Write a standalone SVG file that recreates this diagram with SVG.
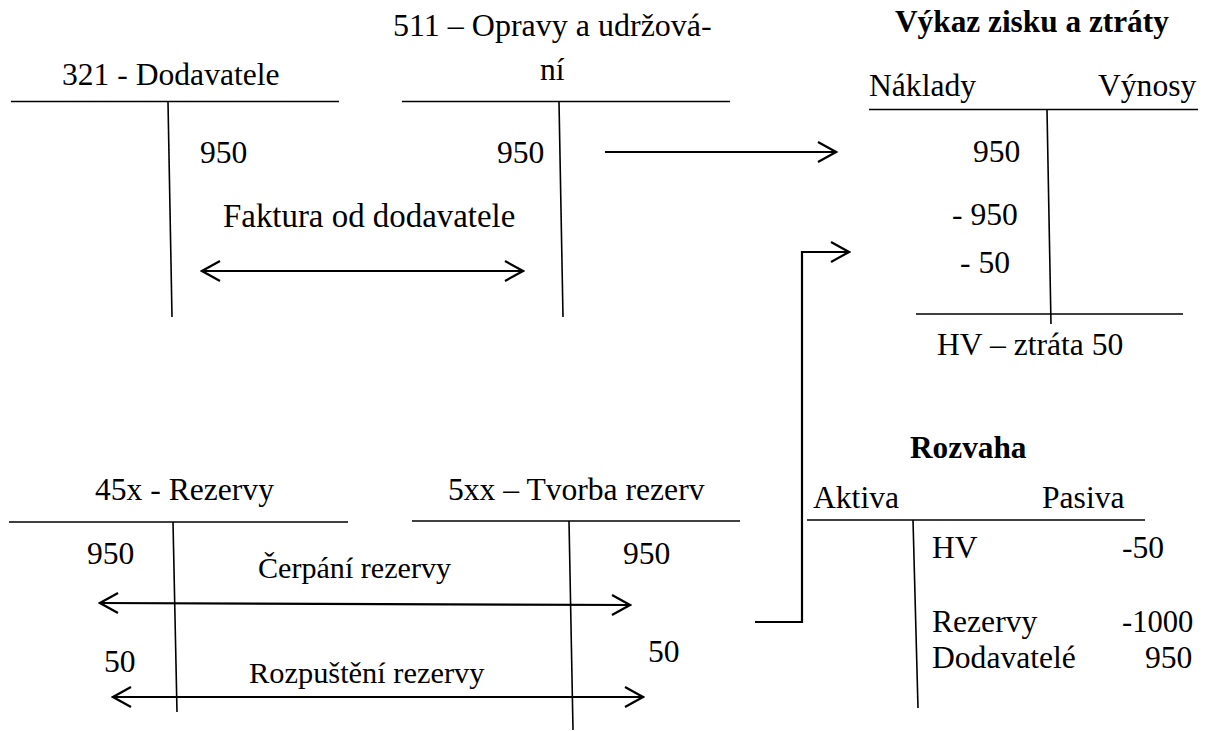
<svg xmlns="http://www.w3.org/2000/svg" width="1211" height="731" viewBox="0 0 1211 731">
<style>
text{font-family:"Liberation Serif","Times New Roman",serif;font-size:31.6px;fill:#000}
.b{font-weight:bold;font-size:31.3px}
.t{stroke:#000;stroke-width:1.6;fill:none}
.c{stroke:#000;stroke-width:2.2;fill:none}
</style>
<defs>
<marker id="ah" viewBox="-20 -12 22 24" refX="0" refY="0" markerWidth="22" markerHeight="24" markerUnits="userSpaceOnUse" orient="auto-start-reverse">
<path d="M-18,-10 L0,0 L-18,10" fill="none" stroke="#000" stroke-width="2.2"/>
</marker>
</defs>
<rect width="1211" height="731" fill="#fff"/>
<g id="acc321">
<text x="62" y="85">321 - Dodavatele</text>
<line class="t" x1="11" y1="101.5" x2="339" y2="101.5"/>
<line class="t" x1="168" y1="102" x2="172" y2="317"/>
<text x="200" y="163">950</text>
</g>
<g id="acc511">
<text x="393" y="36" style="font-size:32px">511 – Opravy a udržová-</text>
<text x="540" y="80">ní</text>
<line class="t" x1="402" y1="101.5" x2="730" y2="101.5"/>
<line class="t" x1="559" y1="102" x2="563" y2="317"/>
<text x="497" y="163">950</text>
</g>
<g id="vzz">
<text class="b" x="895" y="32">Výkaz zisku a ztráty</text>
<text x="869" y="96">Náklady</text>
<text x="1098" y="96">Výnosy</text>
<line class="t" x1="869" y1="109.5" x2="1198" y2="109.5"/>
<line class="t" x1="1047" y1="110" x2="1051" y2="324"/>
<text x="973" y="162">950</text>
<text x="952" y="225">- 950</text>
<text x="960" y="273">- 50</text>
<line class="t" x1="916" y1="314" x2="1183" y2="314"/>
<text x="937" y="355">HV – ztráta 50</text>
</g>
<g id="acc45x">
<text x="95" y="500">45x - Rezervy</text>
<line class="t" x1="9" y1="522" x2="348" y2="522"/>
<line class="t" x1="173" y1="522" x2="177" y2="712"/>
<text x="87" y="564">950</text>
<text x="104" y="672">50</text>
</g>
<g id="acc5xx">
<text x="448" y="500">5xx – Tvorba rezerv</text>
<line class="t" x1="412" y1="521" x2="740" y2="521"/>
<line class="t" x1="569" y1="521" x2="573" y2="730"/>
<text x="623" y="564">950</text>
<text x="648" y="662">50</text>
</g>
<g id="rozvaha">
<text class="b" x="910" y="458">Rozvaha</text>
<text x="813" y="508">Aktiva</text>
<text x="1042" y="508">Pasiva</text>
<line class="t" x1="807" y1="520" x2="1145" y2="520"/>
<line class="t" x1="913" y1="520" x2="918" y2="708"/>
<text x="932" y="558">HV</text>
<text x="1122" y="558">-50</text>
<text x="932" y="632">Rezervy</text>
<text x="1122" y="632" style="font-size:30.6px">-1000</text>
<text x="932" y="668">Dodavatelé</text>
<text x="1145" y="668">950</text>
</g>
<g id="connectors">
<line class="c" x1="202" y1="271" x2="523" y2="271" marker-start="url(#ah)" marker-end="url(#ah)"/>
<line class="c" x1="605" y1="152" x2="836" y2="152" marker-end="url(#ah)"/>
<path class="c" d="M755,622 H802 V252 H849" stroke-width="2.6" marker-end="url(#ah)"/>
<line class="c" x1="100" y1="603" x2="630" y2="605" marker-start="url(#ah)" marker-end="url(#ah)"/>
<line class="c" x1="113" y1="697" x2="643" y2="697" marker-start="url(#ah)" marker-end="url(#ah)"/>
</g>
<g id="labels">
<text x="223" y="227" style="font-size:32.9px">Faktura od dodavatele</text>
<text x="258" y="578" style="font-size:30.1px">Čerpání rezervy</text>
<text x="249" y="683" style="font-size:30.4px">Rozpuštění rezervy</text>
</g>
</svg>
